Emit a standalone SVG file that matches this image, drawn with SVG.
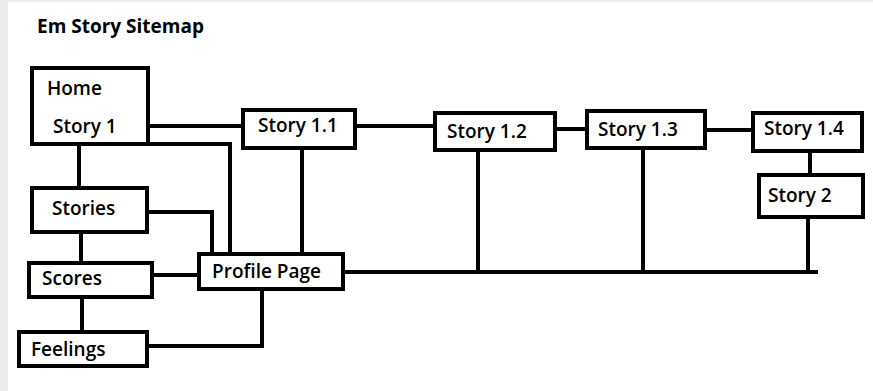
<svg xmlns="http://www.w3.org/2000/svg" width="873" height="391" viewBox="0 0 873 391">
<style>
.box{fill:#fff;stroke:#000;stroke-width:4}
.con{fill:none;stroke:#000;stroke-width:4}
.lbl{font-family:"Open Sans","Liberation Sans",sans-serif;font-size:19px;font-weight:600;fill:#000}
.ttl{font-family:"Open Sans","Liberation Sans",sans-serif;font-size:19px;font-weight:700;fill:#000}
</style>
<rect x="0" y="0" width="873" height="391" fill="#ececec"/>
<rect x="8" y="2" width="865" height="389" fill="#fff"/>
<text class="ttl" x="37" y="33">Em Story Sitemap</text>
<g id="connectors">
<path class="con" d="M148 126H243"/>
<path class="con" d="M355 126H435"/>
<path class="con" d="M555 129H587"/>
<path class="con" d="M705 130H753"/>
<path class="con" d="M810 151V175"/>
<path class="con" d="M808 217V272"/>
<path class="con" d="M343 272H818"/>
<path class="con" d="M478 150V272"/>
<path class="con" d="M643 148V272"/>
<path class="con" d="M302 148V254"/>
<path class="con" d="M148 144H230V254"/>
<path class="con" d="M79 144V188"/>
<path class="con" d="M147 212H212V254"/>
<path class="con" d="M81 232V263"/>
<path class="con" d="M152 275H199"/>
<path class="con" d="M82 297V332"/>
<path class="con" d="M147 346H262V289"/>
</g>
<g id="home"><rect class="box" x="32" y="68" width="116" height="76"/><text class="lbl" x="47" y="95">Home</text><text class="lbl" x="53" y="133">Story 1</text></g>
<g id="story11"><rect class="box" x="243" y="110" width="112" height="38"/><text class="lbl" x="258" y="132">Story 1.1</text></g>
<g id="story12"><rect class="box" x="435" y="113" width="120" height="37"/><text class="lbl" x="447" y="138">Story 1.2</text></g>
<g id="story13"><rect class="box" x="587" y="111" width="118" height="37"/><text class="lbl" x="598" y="136">Story 1.3</text></g>
<g id="story14"><rect class="box" x="753" y="113" width="109" height="38"/><text class="lbl" x="764" y="135">Story 1.4</text></g>
<g id="story2"><rect class="box" x="759" y="175" width="104" height="42"/><text class="lbl" x="768" y="202">Story 2</text></g>
<g id="stories"><rect class="box" x="32" y="188" width="115" height="44"/><text class="lbl" x="52" y="215">Stories</text></g>
<g id="scores"><rect class="box" x="29" y="263" width="123" height="34"/><text class="lbl" x="42" y="285">Scores</text></g>
<g id="feelings"><rect class="box" x="19" y="332" width="128" height="34"/><text class="lbl" x="31" y="356">Feelings</text></g>
<g id="profile"><rect class="box" x="199" y="254" width="144" height="35"/><text class="lbl" x="212" y="278">Profile Page</text></g>
</svg>
